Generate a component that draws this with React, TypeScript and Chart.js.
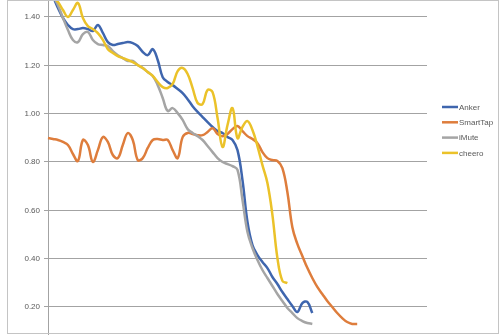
import { useEffect, useRef } from 'react';
import { Chart, registerables } from 'chart.js';

Chart.register(...registerables);

// x categories (time steps; axis labels are outside the visible crop)
const categories: string[] = [
  '0','1','2','3','4','5','6','7','8','9','10','11','12','13','14','15','16','17','18','19',
  '20','21','22','23','24','25','26','27','28','29','30','31','32','33','34','35','36','37','38','39',
  '40','41','42','43','44','45','46','47','48','49','50','51','52','53','54','55','56','57','58','59',
  '60','61','62','63','64','65','66','67','68','69','70','71','72','73','74','75','76',
];

const yTicks: number[] = [0.2, 0.4, 0.6, 0.8, 1.0, 1.2, 1.4];

const anker: number[] = [
  1.511, 1.482, 1.437, 1.396, 1.367, 1.350, 1.350, 1.354, 1.350, 1.342,
  1.367, 1.334, 1.296, 1.284, 1.288, 1.292, 1.296, 1.292, 1.280, 1.255,
  1.242, 1.267, 1.222, 1.151, 1.131, 1.118, 1.102, 1.085, 1.060, 1.031,
  1.007, 0.986, 0.965, 0.945, 0.928, 0.920, 0.903, 0.891, 0.849, 0.725,
  0.552, 0.456, 0.415, 0.386, 0.361, 0.324, 0.295, 0.262, 0.233, 0.204,
  0.179, 0.216, 0.221, 0.175,
];

const smartTap: number[] = [
  0.899, 0.895, 0.891, 0.883, 0.870, 0.833, 0.804, 0.891, 0.870, 0.800,
  0.849, 0.903, 0.883, 0.829, 0.816, 0.870, 0.920, 0.891, 0.808, 0.816,
  0.858, 0.891, 0.895, 0.891, 0.891, 0.849, 0.816, 0.903, 0.920, 0.916,
  0.911, 0.911, 0.924, 0.940, 0.916, 0.907, 0.916, 0.936, 0.949, 0.928,
  0.907, 0.895, 0.878, 0.841, 0.816, 0.808, 0.804, 0.775, 0.676, 0.530,
  0.461, 0.411, 0.362, 0.320, 0.283, 0.254, 0.225, 0.200, 0.175, 0.154,
  0.138, 0.130, 0.130,
];

const iMute: number[] = [
  1.520, 1.487, 1.449, 1.396, 1.346, 1.305, 1.296, 1.329, 1.338, 1.305,
  1.288, 1.284, 1.280, 1.259, 1.242, 1.230, 1.218, 1.218, 1.201, 1.189,
  1.172, 1.156, 1.118, 1.065, 1.011, 1.023, 1.002, 0.974, 0.936, 0.920,
  0.907, 0.891, 0.866, 0.841, 0.816, 0.800, 0.791, 0.783, 0.767, 0.643,
  0.510, 0.444, 0.394, 0.353, 0.320, 0.287, 0.254, 0.225, 0.196, 0.175,
  0.154, 0.142, 0.134, 0.130,
];

const cheero: number[] = [
  1.532, 1.482, 1.462, 1.429, 1.400, 1.429, 1.458, 1.396, 1.362, 1.350,
  1.333, 1.305, 1.267, 1.251, 1.238, 1.230, 1.222, 1.213, 1.201, 1.189,
  1.172, 1.156, 1.131, 1.110, 1.106, 1.123, 1.176, 1.189, 1.164, 1.106,
  1.044, 1.040, 1.098, 1.089, 0.982, 0.862, 0.953, 1.023, 0.899, 0.945,
  0.969, 0.932, 0.866, 0.787, 0.713, 0.581, 0.403, 0.308, 0.299,
];

const seriesNames = ['Anker', 'SmartTap', 'iMute', 'cheero'];
const seriesColors = ['#3F66AE', '#DE7D3C', '#A5A5A5', '#EBC229'];

const FONT = '"Liberation Sans", Arial, sans-serif';
const TEXT = '#595959';
const GRID = '#a3a3a3';

const frameAndLegend = {
  id: 'frameAndLegend',
  afterDraw(chart: any) {
    const ctx = chart.ctx;
    ctx.save();
    ctx.strokeStyle = '#c4c4c4';
    ctx.lineWidth = 1;
    ctx.strokeRect(7.5, 0.5, 491, 333);
    const ds = chart.data.datasets;
    ctx.font = `8px ${FONT}`;
    ctx.textBaseline = 'middle';
    ctx.textAlign = 'left';
    for (let i = 0; i < ds.length; i++) {
      const y = 107 + i * 15.3;
      ctx.strokeStyle = ds[i].borderColor;
      ctx.lineWidth = 2.5;
      ctx.beginPath();
      ctx.moveTo(442, y);
      ctx.lineTo(458, y);
      ctx.stroke();
      ctx.fillStyle = TEXT;
      ctx.fillText(ds[i].label, 459, y + 0.5);
    }
    ctx.restore();
  },
};

export default function App() {
  const ref = useRef<HTMLCanvasElement | null>(null);
  useEffect(() => {
    if (!ref.current) return;
    const values = [anker, smartTap, iMute, cheero];
    const chart = new Chart(ref.current, {
      type: 'line',
      data: {
        labels: categories,
        datasets: values.map((v, i) => ({
          label: seriesNames[i],
          data: v,
          borderColor: seriesColors[i],
          backgroundColor: seriesColors[i],
          borderWidth: 2.5,
          pointRadius: 0,
          tension: 0.4,
          fill: false,
          order: 4 - i,
        })),
      },
      options: {
        responsive: false,
        animation: false,
        devicePixelRatio: 1,
        layout: { padding: { left: 0, right: 73, top: 0, bottom: 0 } },
        plugins: { legend: { display: false }, tooltip: { enabled: false } },
        scales: {
          x: { display: false },
          y: {
            min: 0.0841,
            max: 1.4703,
            afterBuildTicks: (scale: any) => {
              scale.ticks = yTicks.map((v) => ({ value: v }));
            },
            afterFit: (scale: any) => {
              scale.width = 48;
              scale.paddingTop = 0;
              scale.paddingBottom = 0;
            },
            border: { display: true, color: GRID, width: 1 },
            grid: { color: GRID, lineWidth: 1, tickLength: 4, drawTicks: true },
            ticks: {
              padding: 4,
              color: TEXT,
              font: { family: FONT, size: 8 },
              callback: (v: any) => Number(v).toFixed(2),
            },
          },
        },
      },
      plugins: [frameAndLegend],
    });
    return () => chart.destroy();
  }, []);
  return (
    <div style={{ position: 'fixed', left: 0, top: 0, width: 500, height: 335, background: '#fff' }}>
      <canvas ref={ref} width={500} height={335} style={{ width: 500, height: 335, display: 'block' }} />
    </div>
  );
}
